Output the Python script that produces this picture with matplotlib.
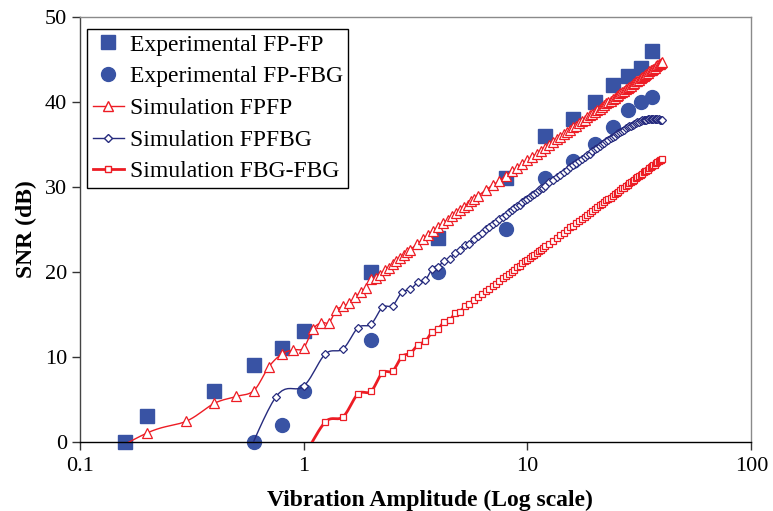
import numpy as np
import matplotlib
matplotlib.use("Agg")
import matplotlib.pyplot as plt
from matplotlib.lines import Line2D

plt.rcParams.update({
    "font.family": "serif",
    "font.serif": ["Liberation Serif", "DejaVu Serif"],
    "font.size": 13,
})

# experimental points
EXP_FPFP_X = [0.16, 0.2, 0.4, 0.6, 0.8, 1, 2, 4, 8, 12, 16, 20, 24, 28, 32, 36]
EXP_FPFP_Y = [0, 3, 6, 9, 11, 13, 20, 24, 31, 36, 38, 40, 42, 43, 44, 46]
EXP_FPFBG_X = [0.6, 0.8, 1, 2, 4, 8, 12, 16, 20, 24, 28, 32, 36]
EXP_FPFBG_Y = [0, 2, 6, 12, 20, 25, 31, 33, 35, 37, 39, 40, 40.6]

# simulation FPFP
SIM_FPFP_X = [
    0.1, 0.2, 0.3, 0.4, 0.5, 0.6, 0.7, 0.8, 0.9, 1.0,
    1.1, 1.2, 1.3, 1.4, 1.5, 1.6, 1.7, 1.8, 1.9, 2.0,
    2.1, 2.2, 2.3, 2.4, 2.5, 2.6, 2.7, 2.8, 2.9, 3.0,
    3.2, 3.4, 3.6, 3.8, 4.0, 4.2, 4.4, 4.6, 4.8, 5.0,
    5.2, 5.4, 5.6, 5.8, 6.0, 6.5, 7.0, 7.5, 8.0, 8.5,
    9.0, 9.5, 10.0, 10.5, 11.0, 11.5, 12.0, 12.5, 13.0, 13.5,
    14.0, 14.5, 15.0, 15.5, 16.0, 16.5, 17.0, 17.5, 18.0, 18.5,
    19.0, 19.5, 20.0, 20.5, 21.0, 21.5, 22.0, 22.5, 23.0, 23.5,
    24.0, 24.5, 25.0, 25.5, 26.0, 26.5, 27.0, 27.5, 28.0, 28.5,
    29.0, 29.5, 30.0, 30.5, 31.0, 31.5, 32.0, 32.5, 33.0, 33.5,
    34.0, 34.5, 35.0, 35.5, 36.0, 36.5, 37.0, 37.5, 38.0, 38.5,
    39.0, 39.5, 40.0,
]
SIM_FPFP_Y = [
    -3.3, 1.0, 2.4, 4.5, 5.3, 6.0, 8.8, 10.3, 10.8, 11.0,
    13.2, 14.0, 14.0, 15.5, 15.9, 16.3, 17.0, 17.6, 18.1, 19.1,
    19.2, 19.6, 20.2, 20.4, 20.9, 21.3, 21.6, 22.0, 22.3, 22.6,
    23.2, 23.8, 24.3, 24.8, 25.2, 25.7, 26.1, 26.5, 26.9, 27.2,
    27.6, 27.9, 28.3, 28.6, 28.9, 29.6, 30.2, 30.7, 31.3, 31.8,
    32.2, 32.7, 33.1, 33.5, 33.9, 34.2, 34.6, 34.9, 35.3, 35.6,
    35.9, 36.2, 36.4, 36.7, 37.0, 37.2, 37.5, 37.7, 37.9, 38.2,
    38.4, 38.6, 38.8, 39.0, 39.2, 39.4, 39.6, 39.8, 40.0, 40.1,
    40.3, 40.5, 40.7, 40.8, 41.0, 41.2, 41.3, 41.5, 41.6, 41.8,
    41.9, 42.1, 42.2, 42.4, 42.5, 42.6, 42.8, 42.9, 43.0, 43.2,
    43.3, 43.4, 43.6, 43.7, 43.8, 43.9, 44.0, 44.2, 44.3, 44.4,
    44.5, 44.6, 44.7,
]

# x grid of the other two simulations (quarter steps, then half steps)
SIM_X_QUARTER = [
    0.5, 0.75, 1.0, 1.25, 1.5, 1.75, 2.0, 2.25, 2.5, 2.75,
    3.0, 3.25, 3.5, 3.75, 4.0, 4.25, 4.5, 4.75, 5.0, 5.25,
    5.5, 5.75, 6.0, 6.25, 6.5, 6.75, 7.0, 7.25, 7.5, 7.75,
    8.0, 8.25, 8.5, 8.75, 9.0, 9.25, 9.5, 9.75, 10.0, 10.25,
    10.5, 10.75, 11.0, 11.25, 11.5, 11.75, 12.0,
]
SIM_X_HALF = [
    12.5, 13.0, 13.5, 14.0, 14.5, 15.0, 15.5, 16.0, 16.5, 17.0,
    17.5, 18.0, 18.5, 19.0, 19.5, 20.0, 20.5, 21.0, 21.5, 22.0,
    22.5, 23.0, 23.5, 24.0, 24.5, 25.0, 25.5, 26.0, 26.5, 27.0,
    27.5, 28.0, 28.5, 29.0, 29.5, 30.0, 30.5, 31.0, 31.5, 32.0,
    32.5, 33.0, 33.5, 34.0, 34.5, 35.0, 35.5, 36.0, 36.5, 37.0,
    37.5, 38.0, 38.5, 39.0, 39.5, 40.0,
]

SIM_FPFBG_X = SIM_X_QUARTER + SIM_X_HALF
SIM_FPFBG_Y = [
    -4.8, 5.2, 6.5, 10.3, 10.9, 13.4, 13.8, 15.8, 16.0, 17.6,
    17.9, 18.8, 19.0, 20.3, 20.6, 21.3, 21.5, 22.2, 22.5, 23.1,
    23.3, 23.8, 24.2, 24.6, 25.0, 25.3, 25.6, 25.9, 26.2, 26.4,
    26.7, 27.0, 27.2, 27.5, 27.7, 27.9, 28.2, 28.4, 28.6, 28.8,
    29.0, 29.2, 29.4, 29.6, 29.8, 29.9, 30.1,
    30.5, 30.8, 31.1, 31.4, 31.7, 32.0, 32.3, 32.5, 32.8, 33.0,
    33.3, 33.5, 33.7, 33.9, 34.2, 34.4, 34.6, 34.8, 35.0, 35.2,
    35.4, 35.5, 35.7, 35.9, 36.0, 36.2, 36.3, 36.5, 36.6, 36.7,
    36.9, 37.0, 37.1, 37.2, 37.3, 37.4, 37.5, 37.6, 37.6, 37.7,
    37.8, 37.8, 37.9, 37.9, 38.0, 38.0, 38.0, 38.0, 38.0, 38.0,
    38.0, 38.0, 38.0, 37.9, 37.9, 37.9,
]

SIM_FBG_X = SIM_X_QUARTER[2:] + SIM_X_HALF
SIM_FBG_Y = [
    -1.9, 2.3, 2.9, 5.6, 5.9, 8.1, 8.3, 10.0, 10.4, 11.4,
    11.8, 12.9, 13.3, 14.1, 14.3, 15.1, 15.3, 15.9, 16.2, 16.7,
    17.0, 17.4, 17.7, 18.0, 18.3, 18.6, 18.9, 19.2, 19.5, 19.7,
    20.0, 20.2, 20.5, 20.7, 21.0, 21.2, 21.4, 21.6, 21.8, 22.0,
    22.2, 22.4, 22.6, 22.8, 23.0,
    23.3, 23.6, 24.0, 24.3, 24.6, 24.9, 25.2, 25.4, 25.7, 26.0,
    26.2, 26.4, 26.7, 26.9, 27.1, 27.4, 27.6, 27.8, 28.0, 28.2,
    28.4, 28.6, 28.7, 28.9, 29.1, 29.3, 29.4, 29.6, 29.8, 29.9,
    30.1, 30.2, 30.4, 30.5, 30.7, 30.8, 31.0, 31.1, 31.3, 31.4,
    31.5, 31.7, 31.8, 31.9, 32.0, 32.2, 32.3, 32.4, 32.5, 32.6,
    32.8, 32.9, 33.0, 33.1, 33.2, 33.3,
]

BLUE = "#3953A4"
RED = "#ED1C24"
NAVY = "#262B7E"


def smooth_line(xs, ys, n=10):
    """Excel-style smoothed line (Catmull-Rom in log-x space)."""
    P = np.column_stack([np.log10(xs), ys])
    out = []
    for i in range(len(P) - 1):
        p0 = P[max(i - 1, 0)]
        p1, p2 = P[i], P[i + 1]
        p3 = P[min(i + 2, len(P) - 1)]
        t = np.linspace(0, 1, n, endpoint=False)[:, None]
        seg = 0.5 * (2 * p1 + (-p0 + p2) * t
                     + (2 * p0 - 5 * p1 + 4 * p2 - p3) * t ** 2
                     + (-p0 + 3 * p1 - 3 * p2 + p3) * t ** 3)
        out.append(seg)
    out.append(P[-1:])
    S = np.vstack(out)
    return 10 ** S[:, 0], S[:, 1]


fig = plt.figure(figsize=(7.73, 5.11), dpi=100)
ax = fig.add_axes([0.103, 0.136, 0.869, 0.831])

ax.plot(EXP_FPFP_X, EXP_FPFP_Y, ls="none", marker="s", ms=9.5, color=BLUE,
        mec=BLUE, clip_on=False, zorder=2)
ax.plot(EXP_FPFBG_X, EXP_FPFBG_Y, ls="none", marker="o", ms=10, color=BLUE,
        mec=BLUE, clip_on=False, zorder=2)

sims = [
    (SIM_FPFP_X, SIM_FPFP_Y, RED, "^", 6.5, 1.0, 0.9),
    (SIM_FPFBG_X, SIM_FPFBG_Y, NAVY, "D", 4.5, 1.0, 0.9),
    (SIM_FBG_X, SIM_FBG_Y, RED, "s", 4.8, 2.0, 0.9),
]
for xs, ys, col, mk, ms, lw, mew in sims:
    sx, sy = smooth_line(xs, ys)
    ax.plot(sx, sy, color=col, lw=lw, zorder=3)
    ax.plot(xs, ys, ls="none", marker=mk, ms=ms, mfc="white", mec=col,
            mew=mew, zorder=4)

ax.set_xscale("log")
ax.set_xlim(0.1, 100)
ax.set_ylim(0, 50)
ax.set_xticks([0.1, 1, 10, 100])
ax.set_xticklabels(["0.1", "1", "10", "100"])
ax.minorticks_off()
ax.set_yticks(range(0, 51, 10))
ax.tick_params(axis="both", direction="out", length=6, width=1,
               labelsize=16, color="#333333", pad=3)
ax.tick_params(axis="x", pad=5)

for side in ["top", "right"]:
    ax.spines[side].set_color("#8a8a8a")
ax.spines["left"].set_color("#444444")
ax.spines["bottom"].set_color("black")
for s in ax.spines.values():
    s.set_linewidth(1.0)

ax.set_xlabel("Vibration Amplitude (Log scale)", fontsize=17, fontweight="bold")
ax.xaxis.set_label_coords(0.521, -0.113)
ax.set_ylabel("SNR (dB)", fontsize=17, fontweight="bold", labelpad=6)

handles = [
    Line2D([], [], ls="none", marker="s", ms=9.5, color=BLUE),
    Line2D([], [], ls="none", marker="o", ms=10, color=BLUE),
    Line2D([], [], color=RED, lw=1.0, marker="^", ms=6.5, mfc="white", mec=RED),
    Line2D([], [], color=NAVY, lw=1.0, marker="D", ms=4.5, mfc="white", mec=NAVY),
    Line2D([], [], color=RED, lw=2.0, marker="s", ms=4.8, mfc="white", mec=RED),
]
labels = ["Experimental FP-FP", "Experimental FP-FBG", "Simulation FPFP",
          "Simulation FPFBG", "Simulation FBG-FBG"]
leg = ax.legend(handles, labels, loc="upper left", bbox_to_anchor=(0.0115, 0.9725),
                fontsize=17, frameon=True, fancybox=False, edgecolor="black",
                framealpha=1, handlelength=1.3, handletextpad=0.25,
                labelspacing=0.43, borderpad=0.24, borderaxespad=0)
leg.get_frame().set_linewidth(1.0)

fig.savefig("out.png", dpi=100)
